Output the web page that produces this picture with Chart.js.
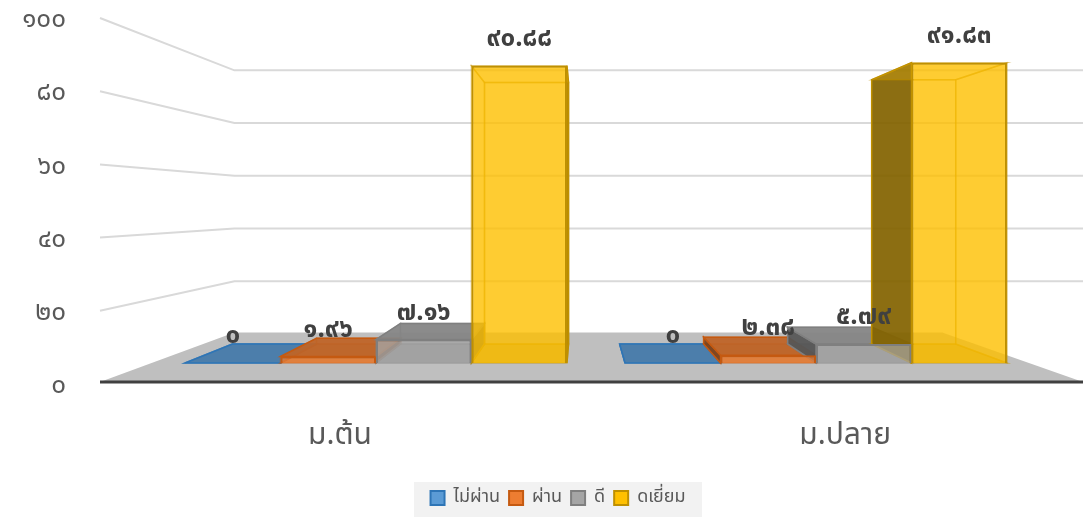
<!DOCTYPE html>
<html>
<head>
<meta charset="utf-8">
<script src="https://cdn.jsdelivr.net/npm/chart.js@4"></script>
<style>
  html, body { margin: 0; padding: 0; background: #fff; }
  #wrap { width: 1083px; height: 517px; position: relative; }
</style>
</head>
<body>
<div id="wrap"><canvas id="chart"></canvas></div>
<script>
var categories = ['ม.ต้น', 'ม.ปลาย'];
var seriesNames = ['ไม่ผ่าน', 'ผ่าน', 'ดี', 'ดเยี่ยม'];
var failValues = [0, 0];
var passValues = [1.96, 2.38];
var goodValues = [7.16, 5.79];
var excellentValues = [90.88, 91.83];
var yTicks = [0, 20, 40, 60, 80, 100];

var fills = ['#5b9bd5', '#ed7d31', '#a5a5a5', '#ffc000'];
var edges = ['#2e75b6', '#c55a11', '#7f7f7f', '#bf9000'];
var thaiFont = 'Tahoma, "Noto Sans Thai", "Leelawadee UI", "DejaVu Sans", sans-serif';

// perspective settings for the fake 3d look
var VP = { x: 580, y: 205 };
var BOX_DEPTH = 0.88;
var WALL_DEPTH = 0.72;

function thaiDigits(v) {
  return String(v).replace(/[0-9]/g, function(d) {
    return String.fromCharCode(0x0E50 + Number(d));
  });
}

function shade(hex, k, a) {
  var r = parseInt(hex.substr(1, 2), 16) * k;
  var g = parseInt(hex.substr(3, 2), 16) * k;
  var b = parseInt(hex.substr(5, 2), 16) * k;
  return 'rgba(' + Math.round(r) + ',' + Math.round(g) + ',' + Math.round(b) + ',' + a + ')';
}

function proj(x, y, d) {
  return [VP.x + d * (x - VP.x), VP.y + d * (y - VP.y)];
}

function quad(ctx, pts, fill, stroke) {
  ctx.beginPath();
  ctx.moveTo(pts[0][0], pts[0][1]);
  for (var i = 1; i < pts.length; i++) ctx.lineTo(pts[i][0], pts[i][1]);
  ctx.closePath();
  ctx.fillStyle = fill;
  ctx.fill();
  if (stroke) {
    ctx.strokeStyle = stroke;
    ctx.lineWidth = 1.5;
    ctx.stroke();
  }
}

// floor, walls and the grid lines on them
var roomPlugin = {
  id: 'room',
  afterLayout: function(chart) {
    // legend sits a bit right of the canvas centre in the original
    chart.legend.left += 40;
    chart.legend.right += 40;
  },
  beforeDraw: function(chart) {
    var ctx = chart.ctx;
    var yScale = chart.scales.y;
    var area = chart.chartArea;
    var xf = area.left - 56;
    var W = chart.width;
    ctx.save();

    // legend background
    var lg = chart.legend;
    if (lg.lineWidths && lg.lineWidths.length) {
      var mid = (lg.left + lg.right) / 2, half = lg.lineWidths[0] / 2;
      ctx.fillStyle = '#f2f2f2';
      ctx.fillRect(mid - half - 12, lg.top + 2, half * 2 + 24, chart.height - lg.top - 2);
    }

    ctx.strokeStyle = '#d9d9d9';
    ctx.lineWidth = 2;
    yTicks.forEach(function(t) {
      if (t === 0) return;
      var yf = yScale.getPixelForValue(t);
      var b = proj(xf, yf, WALL_DEPTH);
      ctx.beginPath();
      ctx.moveTo(xf, yf);
      ctx.lineTo(b[0], b[1]);
      ctx.lineTo(W, b[1]);
      ctx.stroke();
    });

    var y0 = yScale.getPixelForValue(0) - 2;
    var bl = proj(xf, y0, WALL_DEPTH);
    var br = proj(W, y0, WALL_DEPTH);
    quad(ctx, [[xf, y0], [W, y0], br, bl], '#bfbfbf');
    ctx.strokeStyle = '#404040';
    ctx.lineWidth = 3;
    ctx.beginPath();
    ctx.moveTo(xf, y0);
    ctx.lineTo(W, y0);
    ctx.stroke();
    ctx.restore();
  }
};

// back, side, top and bottom faces behind each bar
var boxPlugin = {
  id: 'boxes',
  beforeDatasetsDraw: function(chart) {
    var ctx = chart.ctx;
    ctx.save();
    chart.data.datasets.forEach(function(ds, i) {
      var meta = chart.getDatasetMeta(i);
      meta.data.forEach(function(el) {
        var p = el.getProps(['x', 'y', 'base', 'width'], true);
        var L = p.x - p.width / 2, R = p.x + p.width / 2, T = p.y, B = p.base;
        var c = fills[i], e = edges[i];
        var ftl = [L, T], ftr = [R, T], fbl = [L, B], fbr = [R, B];
        var btl = proj(L, T, BOX_DEPTH), btr = proj(R, T, BOX_DEPTH);
        var bbl = proj(L, B, BOX_DEPTH), bbr = proj(R, B, BOX_DEPTH);
        var faint = shade(c, 0.95, 0.3), faintEdge = shade(e, 1, 0.5);

        quad(ctx, [btl, btr, bbr, bbl], faint, faintEdge);
        quad(ctx, [fbl, fbr, bbr, bbl], shade(c, 0.8, 0.6), faintEdge);

        if (L > VP.x) quad(ctx, [ftl, fbl, bbl, btl], shade(c, 0.5, 0.9), e);
        else quad(ctx, [ftl, fbl, bbl, btl], faint, faintEdge);
        if (R < VP.x) quad(ctx, [ftr, fbr, bbr, btr], shade(c, 0.5, 0.9), e);
        else quad(ctx, [ftr, fbr, bbr, btr], faint, faintEdge);

        if (T > VP.y) quad(ctx, [ftl, ftr, btr, btl], shade(c, 0.8, 0.92), e);
        else quad(ctx, [ftl, ftr, btr, btl], faint, faintEdge);
      });
    });
    ctx.restore();
  },
  afterDatasetsDraw: function(chart) {
    var ctx = chart.ctx;
    ctx.save();
    ctx.font = 'bold 26px ' + thaiFont;
    ctx.fillStyle = '#404040';
    ctx.textAlign = 'center';
    ctx.textBaseline = 'middle';
    chart.data.datasets.forEach(function(ds, i) {
      chart.getDatasetMeta(i).data.forEach(function(el, j) {
        ctx.fillText(thaiDigits(ds.data[j]), el.x, el.y - 25);
      });
    });
    ctx.restore();
  }
};

var seriesValues = [failValues, passValues, goodValues, excellentValues];
var datasets = seriesNames.map(function(name, i) {
  return {
    label: name,
    data: seriesValues[i],
    xAxisID: 'x',
    yAxisID: 'yBar',
    backgroundColor: shade(fills[i], 1, 0.72),
    borderColor: edges[i],
    borderWidth: 2,
    barPercentage: 1.0,
    categoryPercentage: 0.868
  };
});

var ctx = document.getElementById('chart').getContext('2d');
window.resultChart = new Chart(ctx, {
  type: 'bar',
  data: { labels: categories, datasets: datasets },
  plugins: [roomPlugin, boxPlugin],
  options: {
    responsive: true,
    maintainAspectRatio: false,
    animation: false,
    layout: { padding: { top: 18, right: 47, bottom: 0, left: 0 } },
    plugins: {
      tooltip: { enabled: false },
      legend: {
        position: 'bottom',
        labels: {
          font: { size: 18, family: thaiFont },
          color: '#595959',
          boxWidth: 14,
          boxHeight: 14,
          padding: 9,
          generateLabels: function(chart) {
            return seriesNames.map(function(n, i) {
              return { text: n, fillStyle: fills[i], strokeStyle: edges[i], lineWidth: 2, datasetIndex: i, hidden: false, fontColor: '#595959' };
            });
          }
        }
      }
    },
    scales: {
      x: { display: false, offset: true },
      xLab: {
        type: 'linear',
        position: 'bottom',
        offset: false,
        min: -0.3643,
        max: 1.378,
        afterBuildTicks: function(scale) { scale.ticks = [{ value: 0 }, { value: 1 }]; },
        afterFit: function(scale) { scale.height = 96; scale.paddingLeft = 0; scale.paddingRight = 0; },
        grid: { display: false, drawTicks: false },
        border: { display: false },
        ticks: {
          autoSkip: false,
          maxRotation: 0,
          padding: 36,
          color: '#595959',
          font: { size: 30, family: thaiFont },
          callback: function(v) { return categories[v]; }
        }
      },
      y: {
        position: 'left',
        min: 0,
        max: 100,
        afterBuildTicks: function(scale) { scale.ticks = yTicks.map(function(t) { return { value: t }; }); },
        afterFit: function(scale) { scale.width = 156; scale.paddingTop = 0; scale.paddingBottom = 0; },
        grid: { display: false, drawTicks: false },
        border: { display: false },
        ticks: {
          padding: 90,
          labelOffset: 4,
          color: '#595959',
          font: { size: 26, family: thaiFont },
          callback: function(v) { return thaiDigits(v); }
        }
      },
      yBar: {
        display: false,
        min: -6.44,
        max: 105.52
      }
    }
  }
});
</script>
</body>
</html>
